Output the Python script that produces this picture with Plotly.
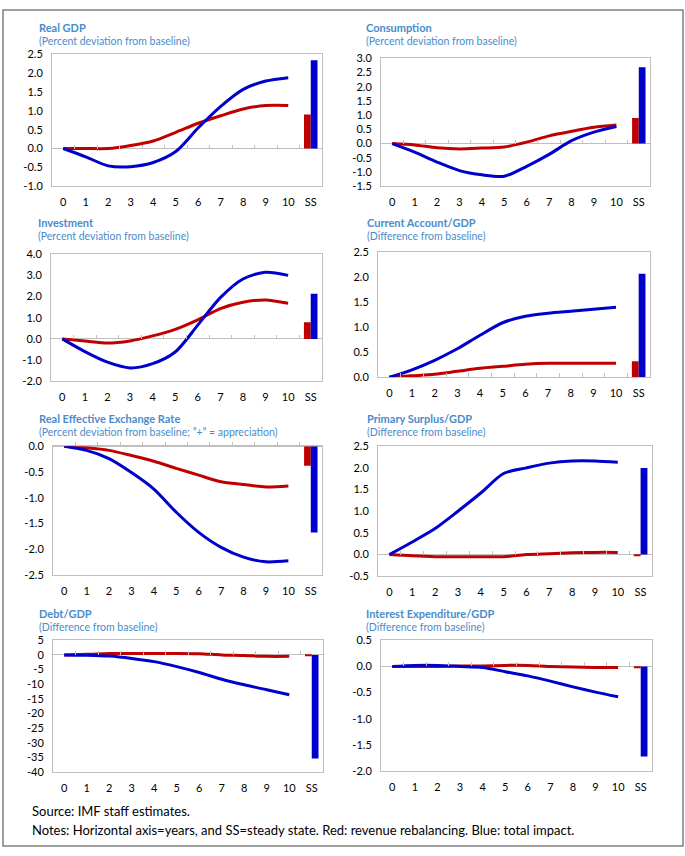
import plotly.graph_objects as go

W, H = 685, 856

years = ["0", "1", "2", "3", "4", "5", "6", "7", "8", "9", "10"]
ss_label = "SS"
categories = years + [ss_label]

titles = ["Real GDP", "Consumption", "Investment", "Current Account/GDP",
          "Real Effective Exchange Rate", "Primary Surplus/GDP",
          "Debt/GDP", "Interest Expenditure/GDP"]
subtitles = ["(Percent deviation from baseline)", "(Percent deviation from baseline)",
             "(Percent deviation from baseline)", "(Difference from baseline)",
             "(Percent deviation from baseline; \u201d+\u201d = appreciation)",
             "(Difference from baseline)", "(Difference from baseline)",
             "(Difference from baseline)"]

# Red: revenue rebalancing; Blue: total impact (years 0..10), then steady state
gdp_red = [0.0, 0.0, 0.0, 0.08, 0.2, 0.43, 0.67, 0.87, 1.05, 1.14, 1.14]
gdp_blue = [0.0, -0.22, -0.46, -0.48, -0.37, -0.08, 0.55, 1.12, 1.57, 1.79, 1.88]
gdp_ss = [0.9, 2.34]

cons_red = [0.0, -0.05, -0.15, -0.19, -0.16, -0.12, 0.05, 0.27, 0.43, 0.57, 0.65]
cons_blue = [0.0, -0.3, -0.65, -0.95, -1.1, -1.15, -0.8, -0.38, 0.1, 0.4, 0.6]
cons_ss = [0.9, 2.68]

inv_red = [0.0, -0.1, -0.2, -0.1, 0.14, 0.45, 0.9, 1.43, 1.73, 1.84, 1.68]
inv_blue = [0.0, -0.6, -1.1, -1.37, -1.17, -0.62, 0.65, 1.95, 2.83, 3.15, 3.0]
inv_ss = [0.78, 2.13]

ca_red = [0.0, 0.03, 0.06, 0.12, 0.18, 0.22, 0.26, 0.28, 0.28, 0.28, 0.28]
ca_blue = [0.0, 0.15, 0.34, 0.57, 0.84, 1.09, 1.22, 1.28, 1.32, 1.36, 1.4]
ca_ss = [0.32, 2.07]

reer_red = [0.0, -0.03, -0.08, -0.18, -0.29, -0.43, -0.56, -0.69, -0.74, -0.79, -0.77]
reer_blue = [0.0, -0.08, -0.24, -0.51, -0.83, -1.28, -1.67, -1.96, -2.15, -2.24, -2.22]
reer_ss = [-0.38, -1.67]

ps_red = [0.0, -0.03, -0.05, -0.05, -0.05, -0.05, 0.0, 0.02, 0.04, 0.05, 0.05]
ps_blue = [0.0, 0.29, 0.6, 1.0, 1.42, 1.87, 2.0, 2.11, 2.16, 2.16, 2.13]
ps_ss = [-0.03, 2.0]

debt_red = [0.0, 0.2, 0.5, 0.5, 0.5, 0.5, 0.4, 0.0, -0.2, -0.5, -0.5]
debt_blue = [0.0, -0.1, -0.4, -1.2, -2.3, -4.0, -6.0, -8.3, -10.2, -11.9, -13.6]
debt_ss = [-0.2, -35.3]

int_red = [0.0, 0.0, 0.0, 0.01, 0.01, 0.02, 0.02, 0.0, -0.01, -0.02, -0.02]
int_blue = [0.0, 0.02, 0.02, 0.0, -0.02, -0.1, -0.18, -0.28, -0.39, -0.49, -0.58]
int_ss = [-0.02, -1.72]

series = [(gdp_red, gdp_blue, gdp_ss), (cons_red, cons_blue, cons_ss),
          (inv_red, inv_blue, inv_ss), (ca_red, ca_blue, ca_ss),
          (reer_red, reer_blue, reer_ss), (ps_red, ps_blue, ps_ss),
          (debt_red, debt_blue, debt_ss), (int_red, int_blue, int_ss)]

y_ranges = [(-1.0, 2.5, 0.5), (-1.5, 3.0, 0.5), (-2.0, 4.0, 1.0), (0.0, 2.5, 0.5),
            (-2.5, 0.0, 0.5), (-0.5, 2.5, 0.5), (-40, 5, 5), (-2.0, 0.5, 0.5)]
y_fmt = [".1f", ".1f", ".1f", ".1f", ".1f", ".1f", "d", ".1f"]

# plot frames in pixels: left, right, top, bottom
frames = [(52, 322, 48, 182), (381, 650, 52, 182),
          (51, 322, 251, 380), (378, 650, 249, 376),
          (53, 322, 446, 577), (378, 652, 446, 578),
          (53, 323, 643, 777), (381, 652, 643, 776)]
title_pos = [(37, 21), (364, 21), (36, 219), (365, 219),
             (37, 418), (365, 418), (37, 616), (364, 616)]

RED = "#C00000"
BLUE = "#0000CC"
FRAME = "#BFBFBF"
TITLE_C = "#4A8CCB"
FONT = "Lato"

fig = go.Figure()
annotations = []

for i, ((red, blue, ssv), (ymin, ymax, dt), fmt, fr, tp) in enumerate(
        zip(series, y_ranges, y_fmt, frames, title_pos)):
    n = i + 1
    xa, ya = f"x{n}", f"y{n}"
    fig.add_trace(go.Scatter(x=years, y=red, mode="lines", xaxis=xa, yaxis=ya,
                             line=dict(color=RED, width=3, shape="spline", smoothing=0.8),
                             showlegend=False))
    fig.add_trace(go.Scatter(x=years, y=blue, mode="lines", xaxis=xa, yaxis=ya,
                             line=dict(color=BLUE, width=3, shape="spline", smoothing=0.8),
                             showlegend=False))
    fig.add_trace(go.Bar(x=[ss_label], y=[ssv[0]], xaxis=xa, yaxis=ya,
                         marker=dict(color=RED, line=dict(width=0)), showlegend=False))
    fig.add_trace(go.Bar(x=[ss_label], y=[ssv[1]], xaxis=xa, yaxis=ya,
                         marker=dict(color=BLUE, line=dict(width=0)), showlegend=False))
    # dummy trace for tick overlay axis
    fig.add_trace(go.Scatter(x=[None], y=[None], xaxis=f"x{n + 8}", yaxis=ya,
                             showlegend=False, hoverinfo="skip"))

    l, r, t, b = fr
    xdom = [l / W, r / W]
    ydom = [1 - b / H, 1 - t / H]
    nsteps = int(round((ymax - ymin) / dt))
    tvals = [ymin + k * dt for k in range(nsteps + 1)]
    if fmt == "d":
        ttext = [f"{int(round(v))}" for v in tvals]
    else:
        ttext = [f"{v:.1f}" for v in tvals]
    zero_frac = ydom[0] + (0 - ymin) / (ymax - ymin) * (ydom[1] - ydom[0])

    fig.layout[f"xaxis{n}"] = dict(
        domain=xdom, anchor=ya, type="category", categoryorder="array",
        categoryarray=categories, range=[-0.5, len(categories) - 0.5],
        showline=True, linecolor=FRAME, linewidth=1, mirror=True,
        showgrid=False, zeroline=False, ticks="", ticklabelstandoff=6,
        tickfont=dict(family=FONT, size=11, color="#000000"), fixedrange=True)
    fig.layout[f"yaxis{n}"] = dict(
        domain=ydom, anchor=xa, range=[ymin, ymax], tickvals=tvals, ticktext=ttext,
        showline=True, linecolor=FRAME, linewidth=1, mirror=True,
        showgrid=False, zeroline=True, zerolinecolor=FRAME, zerolinewidth=1,
        ticks="", ticklabelstandoff=6,
        tickfont=dict(family=FONT, size=11, color="#000000"), fixedrange=True)
    fig.layout[f"xaxis{n + 8}"] = dict(
        domain=xdom, overlaying=xa, anchor="free", position=zero_frac, side="top",
        range=[-0.5, len(categories) - 0.5],
        tickvals=[k + 0.5 for k in range(len(years))],
        ticks="outside", ticklen=4, tickwidth=1, tickcolor=FRAME,
        showticklabels=False, showgrid=False, showline=False, zeroline=False,
        fixedrange=True)

    annotations.append(dict(text=f"<b>{titles[i]}</b>", x=tp[0] / W, y=1 - tp[1] / H,
                            xref="paper", yref="paper", xanchor="left", yanchor="middle",
                            showarrow=False, font=dict(family=FONT, size=11, color=TITLE_C)))
    annotations.append(dict(text=subtitles[i], x=tp[0] / W, y=1 - (tp[1] + 14) / H,
                            xref="paper", yref="paper", xanchor="left", yanchor="middle",
                            showarrow=False, font=dict(family=FONT, size=10.5, color=TITLE_C)))

source_text = "Source: IMF staff estimates."
notes_text = ("Notes: Horizontal axis=years, and SS=steady state. "
              "Red: revenue rebalancing. Blue: total impact.")
annotations.append(dict(text=source_text, x=30 / W, y=1 - 816 / H, xref="paper", yref="paper",
                        xanchor="left", yanchor="middle", showarrow=False,
                        font=dict(family=FONT, size=13, color="#000000")))
annotations.append(dict(text=notes_text, x=30 / W, y=1 - 836 / H, xref="paper", yref="paper",
                        xanchor="left", yanchor="middle", showarrow=False,
                        font=dict(family=FONT, size=13, color="#000000")))

fig.update_layout(
    width=W, height=H, margin=dict(l=0, r=0, t=0, b=0),
    paper_bgcolor="white", plot_bgcolor="white",
    barmode="group", bargap=0.4, bargroupgap=0.0,
    annotations=annotations, showlegend=False,
    shapes=[dict(type="rect", xref="paper", yref="paper",
                 x0=3 / W, x1=683 / W, y0=1 - 852 / H, y1=1 - 3 / H,
                 line=dict(color="#7F7F7F", width=1.5))],
)

fig.write_html("out.html", config={"displayModeBar": False},
               post_script="document.body.style.margin='0';document.body.style.overflow='hidden';")
